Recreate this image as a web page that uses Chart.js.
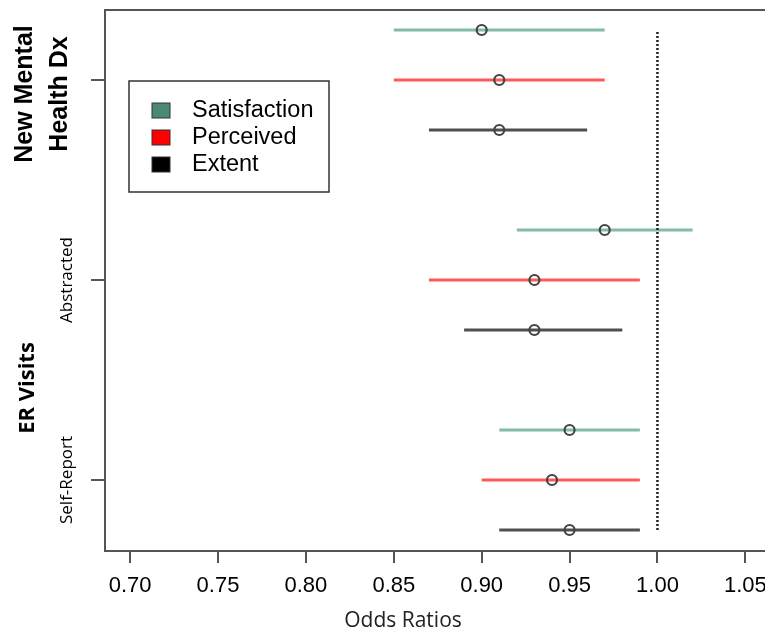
<!DOCTYPE html>
<html>
<head>
<meta charset="utf-8">
<script src="https://cdn.jsdelivr.net/npm/chart.js@4.4.0/dist/chart.umd.min.js"></script>
<style>
  body { margin: 0; background: #fff; overflow: hidden; }
  #wrap { width: 765px; height: 636px; overflow: hidden; }
</style>
</head>
<body>
<!-- canvas is a bit wider than the window so the last x label is cut at the edge, as in the original -->
<div id="wrap"><canvas id="forestChart" width="777" height="636"></canvas></div>
<script>
// groups on the y axis (top to bottom) and their label text
const groups = ['New Mental Health Dx', 'Abstracted', 'Self-Report'];
const groupPos = [9, 5, 1];
const seriesNames = ['Satisfaction', 'Perceived', 'Extent'];
const seriesOffset = [1, 0, -1];

// odds ratios and 95% CI, one entry per group
const satisfactionOR = [0.90, 0.97, 0.95];
const satisfactionLo = [0.85, 0.92, 0.91];
const satisfactionHi = [0.97, 1.02, 0.99];
const perceivedOR = [0.91, 0.93, 0.94];
const perceivedLo = [0.85, 0.87, 0.90];
const perceivedHi = [0.97, 0.99, 0.99];
const extentOR = [0.91, 0.93, 0.95];
const extentLo = [0.87, 0.89, 0.91];
const extentHi = [0.96, 0.98, 0.99];

const xTicks = [0.70, 0.75, 0.80, 0.85, 0.90, 0.95, 1.00, 1.05];
const refLine = 1.0;

const lineColors = ['rgba(110,175,148,0.85)', 'rgba(255,60,60,0.85)', 'rgba(60,60,60,0.9)'];
const legendColors = ['#4b8a72', '#ff0000', '#000000'];

const allOR = [satisfactionOR, perceivedOR, extentOR];
const allLo = [satisfactionLo, perceivedLo, extentLo];
const allHi = [satisfactionHi, perceivedHi, extentHi];

const datasets = [];

// confidence interval lines, one dataset per series, gaps between groups
seriesNames.forEach((name, s) => {
    const pts = [];
    groups.forEach((g, i) => {
        const y = groupPos[i] + seriesOffset[s];
        pts.push({ x: allLo[s][i], y: y });
        pts.push({ x: allHi[s][i], y: y });
        pts.push({ x: null, y: null });
    });
    datasets.push({
        label: name + ' CI',
        data: pts,
        showLine: true,
        spanGaps: false,
        borderColor: lineColors[s],
        borderWidth: 3,
        pointRadius: 0,
        order: 2
    });
});

// point estimates
seriesNames.forEach((name, s) => {
    datasets.push({
        label: name,
        data: groups.map((g, i) => ({ x: allOR[s][i], y: groupPos[i] + seriesOffset[s] })),
        pointRadius: 5,
        pointBorderWidth: 2.2,
        pointBorderColor: '#444',
        pointBackgroundColor: 'rgba(255,255,255,0)',
        order: 0
    });
});

// reference line at OR = 1
datasets.push({
    label: 'ref',
    data: [{ x: refLine, y: 0 }, { x: refLine, y: 10 }],
    showLine: true,
    borderColor: '#222',
    borderWidth: 2.5,
    borderDash: [2, 2],
    pointRadius: 0,
    order: 1
});

// frame, legend box, axis title and rotated side labels
const decorPlugin = {
    id: 'decor',
    afterDraw(chart) {
        const ctx = chart.ctx;
        const area = chart.chartArea;
        const yScale = chart.scales.y;
        ctx.save();

        ctx.strokeStyle = '#555';
        ctx.lineWidth = 2;
        ctx.strokeRect(area.left, area.top, area.right - area.left, area.bottom - area.top);

        // legend
        ctx.fillStyle = '#fff';
        ctx.fillRect(129, 81, 200, 111);
        ctx.strokeStyle = '#333';
        ctx.lineWidth = 1.5;
        ctx.strokeRect(129, 81, 200, 111);
        ctx.font = '23.5px "Liberation Sans", Arial, sans-serif';
        ctx.textBaseline = 'middle';
        seriesNames.forEach((name, s) => {
            const cy = 110 + s * 27;
            ctx.fillStyle = legendColors[s];
            ctx.fillRect(152, cy - 7, 18, 15);
            ctx.strokeStyle = '#333';
            ctx.lineWidth = 1;
            ctx.strokeRect(152, cy - 7, 18, 15);
            ctx.fillStyle = '#000';
            ctx.fillText(name, 192, cy + 1);
        });

        // x axis title
        ctx.fillStyle = '#222';
        ctx.textAlign = 'center';
        ctx.textBaseline = 'middle';
        ctx.font = '21px "Open Sans", sans-serif';
        ctx.fillText('Odds Ratios', 403, 621);

        // side labels
        ctx.fillStyle = '#000';
        const rot = (text, x, y, font) => {
            ctx.save();
            ctx.translate(x, y);
            ctx.rotate(-Math.PI / 2);
            ctx.font = font;
            ctx.fillText(text, 0, 0);
            ctx.restore();
        };
        const gy = yScale.getPixelForValue(groupPos[0]) + 14;
        rot('New Mental', 25, gy, 'bold 25px "Liberation Sans", Arial, sans-serif');
        rot('Health Dx', 60, gy, 'bold 25px "Liberation Sans", Arial, sans-serif');
        rot(groups[1], 67, yScale.getPixelForValue(groupPos[1]), '17px "Open Sans", sans-serif');
        rot(groups[2], 67, yScale.getPixelForValue(groupPos[2]), '17px "Open Sans", sans-serif');
        const ery = (yScale.getPixelForValue(groupPos[1]) + yScale.getPixelForValue(groupPos[2])) / 2 + 8;
        rot('ER Visits', 28, ery, 'bold 22px "Open Sans", sans-serif');

        ctx.restore();
    }
};

const ctx = document.getElementById('forestChart').getContext('2d');
new Chart(ctx, {
    type: 'scatter',
    data: { datasets: datasets },
    options: {
        responsive: false,
        animation: false,
        layout: { padding: { top: 10, right: 1, left: 0, bottom: 0 } },
        plugins: {
            legend: { display: false },
            tooltip: { enabled: false }
        },
        scales: {
            x: {
                type: 'linear',
                min: 0.6857,
                max: 1.0626,
                afterBuildTicks: scale => { scale.ticks = xTicks.map(v => ({ value: v })); },
                afterFit: scale => { scale.height = 85; },
                ticks: {
                    callback: v => Number(v).toFixed(2),
                    color: '#000',
                    padding: 10,
                    maxRotation: 0,
                    font: { family: '"Liberation Sans", Arial, sans-serif', size: 22 }
                },
                grid: { drawOnChartArea: false, tickLength: 12, color: '#555', lineWidth: 2 },
                border: { display: true, color: '#555', width: 2 }
            },
            y: {
                type: 'linear',
                min: -0.42,
                max: 10.4,
                afterBuildTicks: scale => { scale.ticks = groupPos.map(v => ({ value: v })); },
                afterFit: scale => { scale.width = 105; },
                ticks: { display: false },
                grid: { drawOnChartArea: false, tickLength: 14, color: '#555', lineWidth: 2 },
                border: { display: true, color: '#555', width: 2 }
            }
        }
    },
    plugins: [decorPlugin]
});
</script>
</body>
</html>
